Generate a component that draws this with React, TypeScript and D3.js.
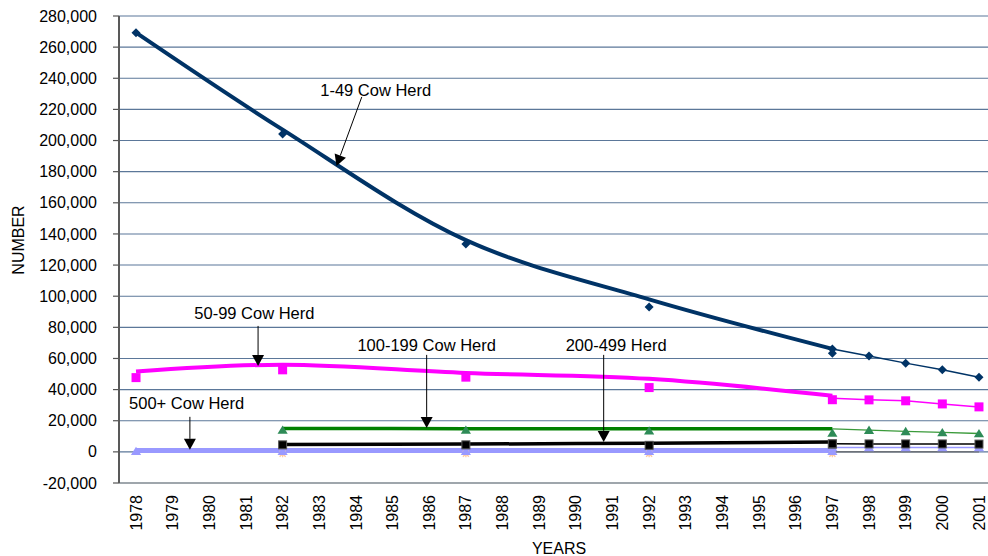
import React from "react";
import * as d3 from "d3";

// ---------- data ----------
const yearLabels = [
  "1978", "1979", "1980", "1981", "1982", "1983", "1984", "1985", "1986", "1987", "1988", "1989",
  "1990", "1991", "1992", "1993", "1994", "1995", "1996", "1997", "1998", "1999", "2000", "2001",
];
const yTickValues = [
  -20000, 0, 20000, 40000, 60000, 80000, 100000, 120000, 140000, 160000, 180000, 200000, 220000,
  240000, 260000, 280000,
];

const censusYears = ["1978", "1982", "1987", "1992", "1997"];
const surveyYears = ["1997", "1998", "1999", "2000", "2001"];

const herd1to49Census = [269300, 204200, 133600, 93100, 63400];
const herd1to49Survey = [66150, 61650, 57000, 52700, 47900];
const herd1to49Trend = [269300, 207000, 136000, 98000, 66150];

const herd50to99Census = [47700, 52700, 48000, 41300, 33500];
const herd50to99Survey = [34500, 33400, 32800, 30800, 28900];
const herd50to99Trend = [51600, 56000, 50700, 46900, 36000];

const herd100to199Census = [null, 14100, 14100, 13600, 12200];
const herd100to199Survey = [14800, 14000, 13200, 12500, 11800];
const herd100to199Trend = [null, 15000, 14900, 14800, 14800];

const herd200to499Census = [null, 4500, 4500, 4200, 5000];
const herd200to499Survey = [5200, 5100, 5100, 5100, 5000];
const herd200to499Trend = [null, 4700, 5000, 5600, 6300];

const herd500plusCensus = [400, 400, 400, 400, 400];
const herd500plusSurvey = [2800, 2800, 2800, 2800, 2800];
const herd500plusTrend = [900, 900, 900, 900, 900];

const otherCensus = [null, -1200, -1200, -1200, -1200];
const otherSurvey = [0, 0, 0, 0, 0];

// annotations
const annotationLabels = ["1-49 Cow Herd", "50-99 Cow Herd", "100-199 Cow Herd", "200-499 Herd", "500+ Cow Herd"];
const annotationTextYear = [1984.54, 1981.23, 1985.93, 1991.1, 1979.38];
const annotationTextValue = [228600, 85400, 64900, 65000, 27600];
const arrowTailYear = [1984.16, 1981.33, 1985.93, 1990.76, 1979.47];
const arrowTipYear = [1983.47, 1981.33, 1985.93, 1990.76, 1979.47];
const arrowTailValue = [228000, 80900, 62300, 62300, 22500];
const arrowTipValue = [183700, 55200, 15400, 6400, 1300];

// ---------- layout ----------
const W = 988;
const H = 556;
const plotLeft = 117.7;
const band = 36.65;
const axisX = 119;
const FONT = "'Liberation Sans', Arial, sans-serif";

type Pt = [string, number | null];

export default function App() {
  const x = d3
    .scalePoint<string>()
    .domain(yearLabels)
    .range([plotLeft, plotLeft + band * yearLabels.length])
    .padding(0.5);
  const xLin = d3
    .scaleLinear()
    .domain([1978, 2001])
    .range([x("1978") as number, x("2001") as number]);
  const y = d3.scaleLinear().domain([-20000, 280000]).range([483, 16]);
  const fmt = (v: number) => d3.format(",")(v).replace("\u2212", "-");

  const zip = (yrs: string[], vals: (number | null)[]): Pt[] => yrs.map((yr, i) => [yr, vals[i]]);

  const smooth = d3
    .line<Pt>()
    .defined((d) => d[1] != null)
    .x((d) => x(d[0]) as number)
    .y((d) => y(d[1] as number))
    .curve(d3.curveCatmullRom.alpha(0.5));
  const straight = d3
    .line<Pt>()
    .defined((d) => d[1] != null)
    .x((d) => x(d[0]) as number)
    .y((d) => y(d[1] as number));

  const diamond = (r: number) => `M0,${-r}L${r},0L0,${r}L${-r},0Z`;
  const tri = (r: number) => `M0,${-r}L${r + 0.6},${r * 0.85}L${-r - 0.6},${r * 0.85}Z`;

  const trends = [
    { vals: herd500plusTrend, color: "#9999ff", w: 5 },
    { vals: herd1to49Trend, color: "#003366", w: 4 },
    { vals: herd50to99Trend, color: "#ff00ff", w: 4 },
    { vals: herd100to199Trend, color: "#008000", w: 3.5 },
    { vals: herd200to499Trend, color: "#000000", w: 3.5 },
  ];
  const surveys = [
    { vals: otherSurvey, color: "#666666", w: 1.2 },
    { vals: herd500plusSurvey, color: "#9999ff", w: 1.5 },
    { vals: herd200to499Survey, color: "#000000", w: 1.5 },
    { vals: herd100to199Survey, color: "#3a9a3a", w: 1.3 },
    { vals: herd50to99Survey, color: "#ff00ff", w: 1.5 },
    { vals: herd1to49Survey, color: "#003366", w: 1.5 },
  ];

  type MarkerSet = { yrs: string[]; vals: (number | null)[]; kind: string };
  const markerSets: MarkerSet[] = [
    { yrs: censusYears, vals: otherCensus, kind: "other" },
    { yrs: censusYears, vals: herd500plusCensus, kind: "purple" },
    { yrs: surveyYears, vals: herd500plusSurvey, kind: "purple" },
    { yrs: censusYears, vals: herd200to499Census, kind: "black" },
    { yrs: surveyYears, vals: herd200to499Survey, kind: "black" },
    { yrs: censusYears, vals: herd100to199Census, kind: "green" },
    { yrs: surveyYears.slice(1), vals: herd100to199Survey.slice(1), kind: "green" },
    { yrs: censusYears, vals: herd50to99Census, kind: "magenta" },
    { yrs: surveyYears.slice(1), vals: herd50to99Survey.slice(1), kind: "magenta" },
    { yrs: censusYears, vals: herd1to49Census, kind: "navy" },
    { yrs: surveyYears, vals: herd1to49Survey, kind: "navy" },
  ];

  const renderMarker = (kind: string, cx: number, cy: number, key: string) => {
    const t = `translate(${cx},${cy})`;
    switch (kind) {
      case "navy":
        return <path key={key} transform={t} d={diamond(4.5)} fill="#003366" />;
      case "magenta":
        return <rect key={key} x={cx - 4.5} y={cy - 4.5} width={9} height={9} fill="#ff00ff" />;
      case "green":
        return <path key={key} transform={t} d={tri(4.5)} fill="#2e8b57" />;
      case "black":
        return (
          <rect key={key} x={cx - 4} y={cy - 4} width={8} height={8} fill="#000" stroke="#555" strokeWidth={1} />
        );
      case "purple":
        return <path key={key} transform={t} d={tri(4.5)} fill="#9999ff" />;
      default:
        return (
          <path
            key={key}
            transform={t}
            d="M-3,-3L3,3M-3,3L3,-3M0,-3.5L0,3.5"
            stroke="#ffc8a0"
            strokeWidth={1.3}
            fill="none"
          />
        );
    }
  };

  return (
    <svg
      width={W}
      height={H}
      viewBox={`0 0 ${W} ${H}`}
      style={{ position: "absolute", left: 0, top: 0, background: "#fff" }}
      fontFamily={FONT}
    >
      <rect x={0} y={0} width={W} height={H} fill="#fff" />
      {/* gridlines */}
      {yTickValues.map((v) =>
        v === -20000 ? null : (
          <line key={"g" + v} x1={axisX} x2={W} y1={y(v)} y2={y(v)} stroke="#5b7799" strokeWidth={1.1} />
        )
      )}
      {/* bottom axis line */}
      <line x1={axisX} x2={W} y1={y(-20000)} y2={y(-20000)} stroke="#7f8890" strokeWidth={1.5} />
      {/* y ticks + labels */}
      {yTickValues.map((v) => (
        <g key={"t" + v}>
          <line x1={113} x2={axisX} y1={y(v)} y2={y(v)} stroke="#555" strokeWidth={1.2} />
          <text x={97} y={y(v)} dy="0.35em" textAnchor="end" fontSize={16} fill="#000">
            {fmt(v)}
          </text>
        </g>
      ))}
      <line x1={axisX} x2={axisX} y1={y(280000)} y2={y(-20000)} stroke="#595959" strokeWidth={2} />

      {/* x labels */}
      {yearLabels.map((yr) => (
        <text
          key={"x" + yr}
          transform={`translate(${x(yr)},495) rotate(-90)`}
          dy="0.35em"
          textAnchor="end"
          fontSize={16}
          fill="#000"
        >
          {yr}
        </text>
      ))}
      <text x={559} y={554} textAnchor="middle" fontSize={16} fill="#000">
        YEARS
      </text>
      <text transform="translate(18.5,240) rotate(-90)" dy="0.35em" textAnchor="middle" fontSize={16} fill="#000">
        NUMBER
      </text>

      {/* thin survey lines */}
      {surveys.map((s, i) => (
        <path
          key={"s" + i}
          d={straight(zip(surveyYears, s.vals)) || ""}
          fill="none"
          stroke={s.color}
          strokeWidth={s.w}
        />
      ))}
      {/* thick smoothed lines */}
      {trends.map((t, i) => (
        <path
          key={"tr" + i}
          d={smooth(zip(censusYears, t.vals)) || ""}
          fill="none"
          stroke={t.color}
          strokeWidth={t.w}
          strokeLinejoin="round"
        />
      ))}
      {/* markers */}
      {markerSets.map((m, i) =>
        m.yrs.map((yr, j) =>
          m.vals[j] == null ? null : renderMarker(m.kind, x(yr) as number, y(m.vals[j] as number), `m${i}-${j}`)
        )
      )}

      {/* annotations */}
      {annotationLabels.map((lab, i) => {
        const tx = xLin(arrowTailYear[i]);
        const ty = y(arrowTailValue[i]);
        const px = xLin(arrowTipYear[i]);
        const py = y(arrowTipValue[i]);
        const dx = px - tx;
        const dyv = py - ty;
        const len = Math.hypot(dx, dyv);
        const ux = dx / len;
        const uy = dyv / len;
        const hl = 11;
        const hw = 6;
        const bx = px - ux * hl;
        const by = py - uy * hl;
        const head = `M${px},${py}L${bx - uy * hw},${by + ux * hw}L${bx + uy * hw},${by - ux * hw}Z`;
        return (
          <g key={"a" + i}>
            <text
              x={xLin(annotationTextYear[i])}
              y={y(annotationTextValue[i])}
              textAnchor="middle"
              fontSize={16.5}
              fill="#000"
            >
              {lab}
            </text>
            <line x1={tx} y1={ty} x2={bx} y2={by} stroke="#000" strokeWidth={1} />
            <path d={head} fill="#000" />
          </g>
        );
      })}
    </svg>
  );
}
